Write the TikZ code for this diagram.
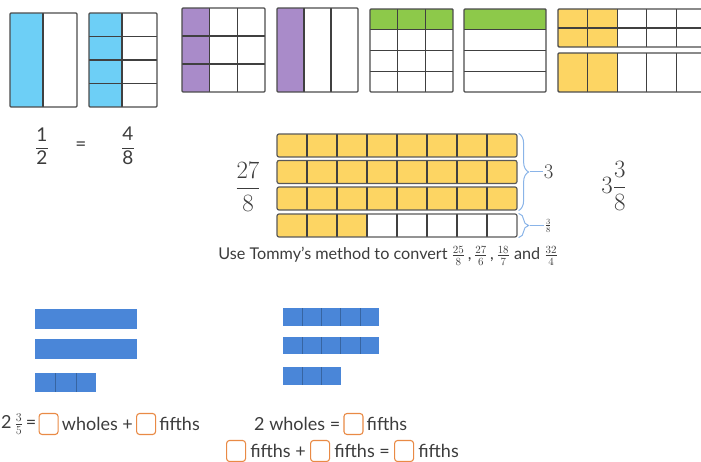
\documentclass[tikz,border=0pt]{standalone}
\usepackage{amsmath}
\usepackage{fontspec}
\setmainfont{Lato}
\usetikzlibrary{positioning,decorations.pathreplacing}
\definecolor{qcyan}{HTML}{6DCFF6}
\definecolor{qpurple}{HTML}{A98BC9}
\definecolor{qgreen}{HTML}{8DC94A}
\definecolor{qyellow}{HTML}{FDD563}
\definecolor{qblue}{HTML}{4A86D8}
\definecolor{qbrace}{HTML}{8AB4E8}
\definecolor{qorange}{HTML}{E98A45}
\definecolor{qink}{HTML}{3C3C3C}
\tikzset{
  gline/.style={draw=black!75,line width=1.2pt},
  gbox/.style={draw=black!70,line width=1.4pt,rounded corners=1pt},
  rowbox/.style={draw=black!65,line width=1.2pt,rounded corners=2pt,minimum width=240pt,minimum height=23pt,inner sep=0pt},
  bdiv/.style={draw=qblue!75!black,line width=0.5pt},
  brc/.style={draw=qbrace,line width=1pt,decorate,decoration={brace,amplitude=10pt}},
  tail/.style={draw=qbrace,line width=1pt},
  txt/.style={font=\fontsize{18}{20}\selectfont,text=qink,inner sep=1pt},
  frc/.style={font=\fontsize{19}{21}\selectfont,text=qink,inner sep=1pt},
  big/.style={font=\fontsize{23}{25}\selectfont,text=qink,inner sep=1pt},
  ansbox/.style={draw=qorange,line width=1.1pt,rounded corners=3pt,fill=white,minimum width=19pt,minimum height=21pt,inner sep=0pt},
}
\begin{document}
\begin{tikzpicture}[x=1pt,y=-1pt]
  \useasboundingbox (0,0) rectangle (701,462);
  \clip (0,0) rectangle (701,462);
  % halves and eighths
  \fill[qcyan] (10,13) rectangle (43,107);
  \draw[gline] (43,13) -- (43,107);
  \draw[gbox] (10,13) rectangle (77,107);
  \fill[qcyan] (89,13) rectangle (122,107);
  \draw[gline] (122,13) -- (122,107);
  \foreach \yy in {36.5,60,83.5}
    \draw[gline] (89,\yy) -- (157,\yy);
  \draw[gbox] (89,13) rectangle (157,107);
  \node[frc] (half) at (42,146) {$\dfrac{\text{1}}{\text{2}}$};
  \node[frc] (eq) at (81,146) {=};
  \node[frc] (eighths) at (128,146) {$\dfrac{\text{4}}{\text{8}}$};
  % thirds
  \fill[qpurple] (182,8) rectangle (209.7,92);
  \foreach \xx in {209.7,237.3}
    \draw[gline] (\xx,8) -- (\xx,92);
  \foreach \yy in {36,64}
    \draw[gline] (182,\yy) -- (265,\yy);
  \draw[gbox] (182,8) rectangle (265,92);
  \fill[qpurple] (277,8) rectangle (304,92);
  \foreach \xx in {304,331}
    \draw[gline] (\xx,8) -- (\xx,92);
  \draw[gbox] (277,8) rectangle (358,92);
  % quarters
  \fill[qgreen] (370,9) rectangle (453,29.75);
  \foreach \xx in {397.7,425.3}
    \draw[gline] (\xx,9) -- (\xx,92);
  \foreach \yy in {29.75,50.5,71.25}
    \draw[gline] (370,\yy) -- (453,\yy);
  \draw[gbox] (370,9) rectangle (453,92);
  \fill[qgreen] (464,9) rectangle (546,29.75);
  \foreach \yy in {29.75,50.5,71.25}
    \draw[gline] (464,\yy) -- (546,\yy);
  \draw[gbox] (464,9) rectangle (546,92);
  % yellow strips, cut at the edge
  \fill[qyellow] (558,9) rectangle (617.2,47);
  \fill[qyellow] (558,53) rectangle (617.2,92);
  \foreach \xx in {587.6,617.2,646.8,676.4,706} {
    \draw[gline] (\xx,9) -- (\xx,47);
    \draw[gline] (\xx,53) -- (\xx,92);
  }
  \draw[gline] (558,28) -- (720,28);
  \draw[gbox] (558,9) rectangle (740,47);
  \draw[gbox] (558,53) rectangle (740,92);
  % 27/8 in rows of eight
  \node[big] (improper) at (248,187) {$\dfrac{27}{8}$};
  \foreach \ym/\n [count=\r] in {145.5/8, 172/8, 198.5/8, 225.5/3} {
    \fill[qyellow] (277,\ym-11.5) rectangle (277+30*\n,\ym+11.5);
    \foreach \k in {1,...,7}
      \draw[gline] (277+30*\k,\ym-11.5) -- (277+30*\k,\ym+11.5);
    \node[rowbox] (row\r) at (397,\ym) {};
  }
  \draw[brc] ([xshift=1pt]row1.north east) -- ([xshift=1pt]row3.south east)
    coordinate[midway,xshift=11pt] (tipA);
  \node[big,font=\fontsize{21}{23}\selectfont,anchor=west] (wholes) at ([xshift=13pt]tipA) {$3$};
  \draw[tail] (tipA) -- ([xshift=13pt]tipA);
  \draw[brc] ([xshift=1pt]row4.north east) -- ([xshift=1pt]row4.south east)
    coordinate[midway,xshift=11pt] (tipB);
  \node[text=qink,font=\fontsize{11}{12}\selectfont,anchor=west,inner sep=1pt] (rest) at ([xshift=14pt]tipB) {$\frac{3}{8}$};
  \draw[tail] (tipB) -- ([xshift=14pt]tipB);
  \node[big] (mixed) at (614,186) {$3\dfrac{3}{8}$};
  \node[txt,font=\fontsize{16.2}{18}\selectfont] (task) at (388,256)
    {Use Tommy's method to convert $\tfrac{25}{8}$\,,\,$\tfrac{27}{6}$\,,\,$\tfrac{18}{7}$ and $\tfrac{32}{4}$};
  % fifths bars
  \fill[qblue] (35,309) rectangle (137,329);
  \fill[qblue] (35,339) rectangle (137,359);
  \fill[qblue] (35,373) rectangle (96.2,392);
  \foreach \xx in {55.4,75.8}
    \draw[bdiv] (\xx,373) -- (\xx,392);
  \fill[qblue] (283,308) rectangle (379,326);
  \fill[qblue] (283,337) rectangle (379,354);
  \fill[qblue] (283,367) rectangle (340.6,385);
  \foreach \xx in {302.2,321.4,340.6,359.8} {
    \draw[bdiv] (\xx,308) -- (\xx,326);
    \draw[bdiv] (\xx,337) -- (\xx,354);
  }
  \foreach \xx in {302.2,321.4}
    \draw[bdiv] (\xx,367) -- (\xx,385);
  % sentences with answer boxes
  \node[txt,anchor=west] (mixA) at (0,424) {2\,$\tfrac{3}{5}$\,=};
  \node[ansbox,right=1pt of mixA] (boxA1) {};
  \node[txt,right=2pt of boxA1] (whA) {wholes +};
  \node[ansbox,right=2pt of whA] (boxA2) {};
  \node[txt,right=2pt of boxA2] (fiA) {fifths};
  \node[txt,anchor=west] (twoB) at (253,424) {2 wholes =};
  \node[ansbox,right=2pt of twoB] (boxB) {};
  \node[txt,right=2pt of boxB] (fiB) {fifths};
  \node[ansbox,anchor=west] (boxC1) at (226,451) {};
  \node[txt,right=3pt of boxC1] (fiC1) {fifths +};
  \node[ansbox,right=3pt of fiC1] (boxC2) {};
  \node[txt,right=3pt of boxC2] (fiC2) {fifths =};
  \node[ansbox,right=3pt of fiC2] (boxC3) {};
  \node[txt,right=3pt of boxC3] (fiC3) {fifths};
\end{tikzpicture}
\end{document}
